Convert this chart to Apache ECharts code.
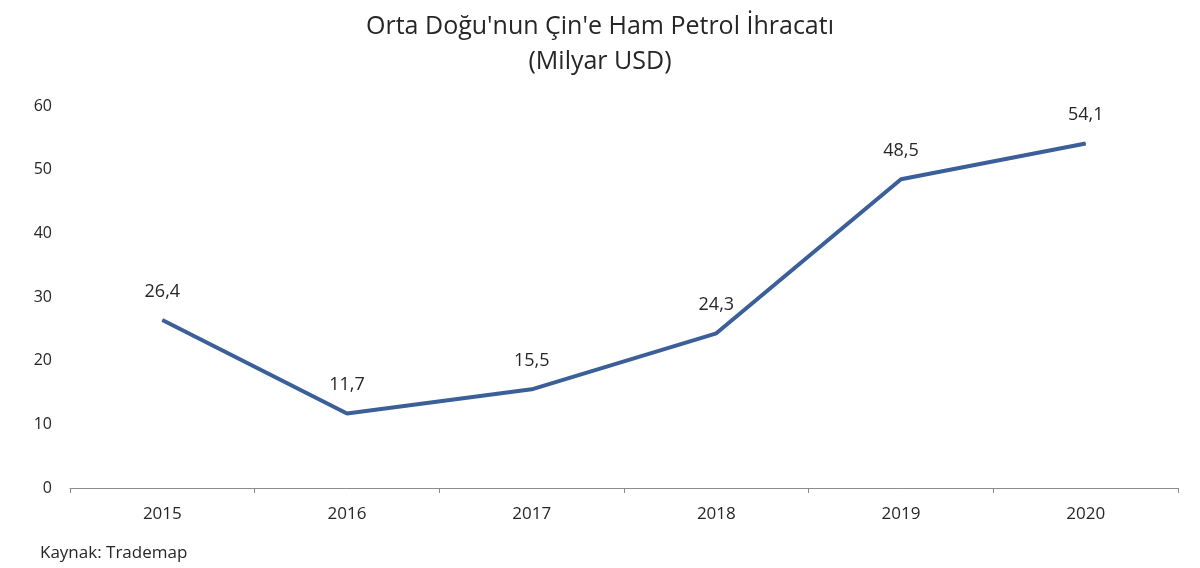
<!DOCTYPE html>
<html>
<head>
<meta charset="utf-8">
<script src="https://cdn.jsdelivr.net/npm/echarts@6/dist/echarts.min.js"></script>
<style>html,body{margin:0;padding:0;background:#fff;}#c{width:1200px;height:568px;}</style>
</head>
<body>
<div id="c"></div>
<script>
const titleText = "Orta Doğu'nun Çin'e Ham Petrol İhracatı\n(Milyar USD)";
const sourceText = "Kaynak: Trademap";
const years = ["2015", "2016", "2017", "2018", "2019", "2020"];
const exportsBn = [26.4, 11.7, 15.5, 24.3, 48.5, 54.1];
const font = "'Open Sans', 'Noto Sans', sans-serif";

const chart = echarts.init(document.getElementById('c'));
chart.setOption({
  animation: false,
  backgroundColor: '#ffffff',
  title: [{
    text: titleText,
    left: 'center',
    top: 4,
    textStyle: { fontFamily: font, fontSize: 25, fontWeight: 'normal', color: '#262626', lineHeight: 35 }
  }, {
    text: sourceText,
    left: 35,
    top: 540,
    textStyle: { fontFamily: font, fontSize: 17, fontWeight: 'normal', color: '#262626' }
  }],
  grid: { left: 70, right: 22, top: 106, bottom: 80 },
  xAxis: {
    type: 'category',
    data: years,
    boundaryGap: true,
    axisLine: { lineStyle: { color: '#8c8c8c', width: 1 } },
    axisTick: { show: true, alignWithLabel: false, length: 5, lineStyle: { color: '#8c8c8c' } },
    axisLabel: { fontFamily: font, fontSize: 17, color: '#262626', margin: 18 }
  },
  yAxis: {
    type: 'value',
    min: 0, max: 60, interval: 10,
    axisLine: { show: false },
    axisTick: { show: false },
    splitLine: { show: false },
    axisLabel: { fontFamily: font, fontSize: 16, color: '#262626', margin: 18 }
  },
  series: [{
    type: 'line',
    data: exportsBn,
    symbol: 'circle',
    symbolSize: 1,
    showSymbol: true,
    itemStyle: { color: '#3b5f98' },
    lineStyle: { color: '#3b5f98', width: 4 },
    label: {
      show: true,
      position: 'top',
      distance: 19,
      fontFamily: font,
      fontSize: 18,
      color: '#262626',
      formatter: p => String(p.value).replace('.', ',')
    }
  }]
});
</script>
</body>
</html>
